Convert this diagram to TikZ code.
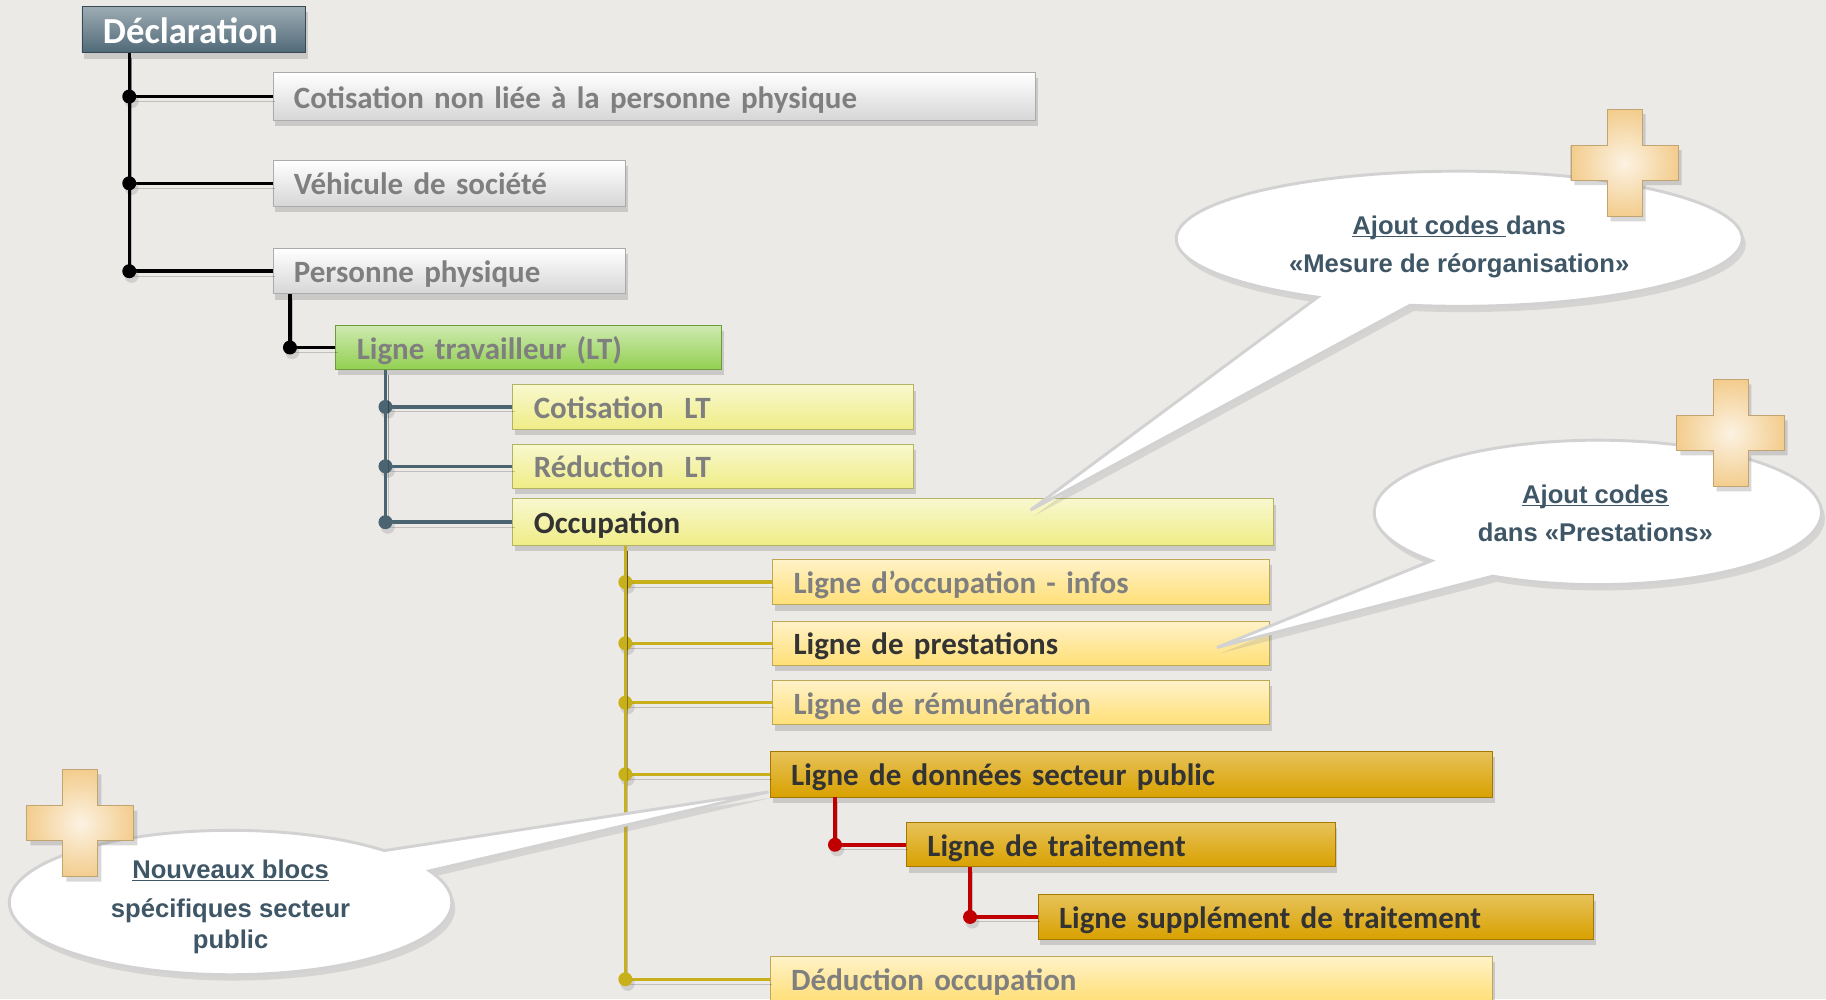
\documentclass[tikz,border=0pt]{standalone}
\usepackage{fontspec}
\setmainfont{Carlito}
\newfontfamily\callfont{Liberation Sans}
\usetikzlibrary{shadows}

\definecolor{bgcol}{HTML}{ECEAE7}
\definecolor{declcol}{HTML}{4F6977}
\definecolor{boxgrey}{HTML}{D6D6D6}
\definecolor{ltgreen}{HTML}{92D050}
\definecolor{paleyel}{HTML}{EFED86}
\definecolor{yel}{HTML}{FFDF76}
\definecolor{gold}{HTML}{D9A100}
\definecolor{txtgrey}{HTML}{7F7F7F}
\definecolor{txtdark}{HTML}{333333}
\definecolor{calltxt}{HTML}{3E5665}
\definecolor{slatecol}{HTML}{4B6471}
\definecolor{olivecol}{HTML}{C8B01A}
\definecolor{redcol}{HTML}{C00000}
\definecolor{cream}{HTML}{F3CD8E}

\tikzset{
  lbox/.style={rectangle, anchor=north west, inner xsep=18pt, inner ysep=0pt, align=left,
    text height=22pt, text depth=2pt, font=\bfseries\fontsize{26.6}{30}\selectfont, text=txtgrey,
    line width=0.8pt, drop shadow={shadow xshift=2pt, shadow yshift=-5pt, opacity=0.3}},
  declbox/.style={lbox, top color=declcol!55!white, middle color=declcol, bottom color=declcol,
    draw=declcol!70!black, text=white, text height=26pt, font=\bfseries\fontsize{31.5}{33}\selectfont},
  greybox/.style={lbox, top color=white, bottom color=boxgrey, draw=boxgrey!80!black},
  greenbox/.style={lbox, top color=ltgreen!45!white, middle color=ltgreen, bottom color=ltgreen, draw=ltgreen!75!black},
  paleybox/.style={lbox, top color=paleyel!40!white, middle color=paleyel, bottom color=paleyel, draw=paleyel!75!black},
  yelbox/.style={lbox, top color=yel!40!white, middle color=yel, bottom color=yel, draw=yel!75!black},
  goldbox/.style={lbox, top color=gold!65!white, middle color=gold, bottom color=gold, draw=gold!75!black, text=txtdark},
  trunk/.style={line width=3pt, preaction={draw=black, opacity=0.18, transform canvas={shift={(2pt,-4pt)}}}},
  blackline/.style={trunk, draw=black},
  slateline/.style={trunk, draw=slatecol},
  oliveline/.style={trunk, draw=olivecol},
  redline/.style={trunk, draw=redcol},
  knot/.style={circle, inner sep=0pt, minimum size=12pt, drop shadow={shadow xshift=2pt, shadow yshift=-4pt, opacity=0.25}},
  blackdot/.style={knot, fill=black},
  slatedot/.style={knot, fill=slatecol},
  olivedot/.style={knot, fill=olivecol},
  reddot/.style={knot, fill=redcol},
  callout/.style={fill=white, draw=gray!35, line width=2.5pt,
    drop shadow={shadow xshift=3pt, shadow yshift=-5pt, opacity=0.2}},
  calltext/.style={align=center, text=calltxt, font=\callfont\bfseries\fontsize{22}{33}\selectfont},
  crossfill/.style={inner color=cream!25!white, outer color=cream, draw=cream!80!black, line width=0.8pt,
    drop shadow={shadow xshift=3pt, shadow yshift=-4pt, opacity=0.3}}
}

\newcommand{\crossat}[1]{\filldraw[crossfill] #1 ++(-15,46) -- ++(30,0) -- ++(0,-31) -- ++(31,0)
  -- ++(0,-30) -- ++(-31,0) -- ++(0,-31) -- ++(-30,0) -- ++(0,31) -- ++(-31,0) -- ++(0,30) -- ++(31,0) -- cycle;}

\begin{document}
\begin{tikzpicture}[x=1pt,y=1pt]
\useasboundingbox (0,0) rectangle (1568,-858);
\fill[bgcol] (0,0) rectangle (1568,-858);

\node[declbox, text width=156, minimum height=40] (decl) at (70,-5) {Déclaration};
\node[greybox, text width=619, minimum height=41] (cotnl) at (234,-62) {Cotisation non liée à la personne physique};
\node[greybox, text width=267, minimum height=40] (vehic) at (234,-137) {Véhicule de société};
\node[greybox, text width=267, minimum height=39] (pers) at (234,-213) {Personne physique};
\node[greenbox, text width=295, minimum height=38] (lt) at (288,-279) {Ligne travailleur (LT)};
\node[paleybox, text width=308, minimum height=38] (cotlt) at (440,-330) {Cotisation~~LT};
\node[paleybox, text width=308, minimum height=38] (redlt) at (440,-381) {Réduction~~LT};
\node[paleybox, text width=617, minimum height=40, text=txtdark] (occ) at (440,-428) {Occupation};
\node[yelbox, text width=391, minimum height=39] (linfo) at (663,-480) {Ligne d’occupation - infos};
\node[yelbox, text width=391, minimum height=38, text=txtdark] (lprest) at (663,-533) {Ligne de prestations};
\node[yelbox, text width=391, minimum height=38] (lremu) at (663,-584) {Ligne de rémunération};
\node[goldbox, text width=584, minimum height=39] (lpub) at (661,-645) {Ligne de données secteur public};
\node[goldbox, text width=332, minimum height=38] (ltrait) at (778,-706) {Ligne de traitement};
\node[goldbox, text width=441, minimum height=38] (lsupp) at (891,-768) {Ligne supplément de traitement};
\node[yelbox, text width=584, minimum height=39] (lded) at (661,-821) {Déduction occupation};

\draw[blackline] ([xshift=41]decl.south west) |- node[pos=0.5, blackdot] {} (cotnl.west);
\draw[blackline] ([xshift=41]decl.south west) |- node[pos=0.5, blackdot] {} (vehic.west);
\draw[blackline] ([xshift=41]decl.south west) |- node[pos=0.5, blackdot] {} (pers.west);
\draw[blackline] ([xshift=15]pers.south west) |- node[pos=0.5, blackdot] {} (lt.west);

\draw[slateline] ([xshift=43]lt.south west) |- node[pos=0.5, slatedot] {} (cotlt.west);
\draw[slateline] ([xshift=43]lt.south west) |- node[pos=0.5, slatedot] {} (redlt.west);
\draw[slateline] ([xshift=43]lt.south west) |- node[pos=0.5, slatedot] {} (occ.west);

\draw[oliveline] ([xshift=97]occ.south west) |- node[pos=0.5, olivedot] {} (linfo.west);
\draw[oliveline] ([xshift=97]occ.south west) |- node[pos=0.5, olivedot] {} (lprest.west);
\draw[oliveline] ([xshift=97]occ.south west) |- node[pos=0.5, olivedot] {} (lremu.west);
\draw[oliveline] ([xshift=97]occ.south west) |- node[pos=0.5, olivedot] {} (lpub.west);
\draw[oliveline] ([xshift=97]occ.south west) |- node[pos=0.5, olivedot] {} (lded.west);

\draw[redline] ([xshift=56]lpub.south west) |- node[pos=0.5, reddot] {} (ltrait.west);
\draw[redline] ([xshift=55]ltrait.south west) |- node[pos=0.5, reddot] {} (lsupp.west);

\path (1253,-205) coordinate (ella);
\path (885,-438) coordinate (tipa);
\path (1372,-440) coordinate (ellb);
\path (1045,-556) coordinate (tipb);
\path (198,-775) coordinate (ellc);
\path (660,-680) coordinate (tipc);

\filldraw[callout] (ella) ++(260:243 and 58) arc[start angle=260, end angle=600, x radius=243, y radius=58] -- (tipa) -- cycle;
\filldraw[callout] (ellb) ++(242:192 and 62) arc[start angle=242, end angle=582, x radius=192, y radius=62] -- (tipb) -- cycle;
\filldraw[callout] (ellc) ++(46:190 and 62) arc[start angle=46, end angle=386, x radius=190, y radius=62] -- (tipc) -- cycle;

\node[calltext] (txta) at (1253,-212) {\underline{\smash{Ajout codes\ }}dans\\«Mesure de réorganisation»};
\node[calltext] (txtb) at (1370,-449) {\underline{\smash{Ajout codes}}\\dans «Prestations»};
\node[calltext, font=\callfont\bfseries\fontsize{22}{27}\selectfont] (txtc) at (198,-787) {\underline{\smash{Nouveaux blocs}}\\[6pt]spécifiques secteur\\public};

\crossat{(1395,-140)}
\crossat{(1486,-372)}
\crossat{(69,-707)}
\end{tikzpicture}
\end{document}
